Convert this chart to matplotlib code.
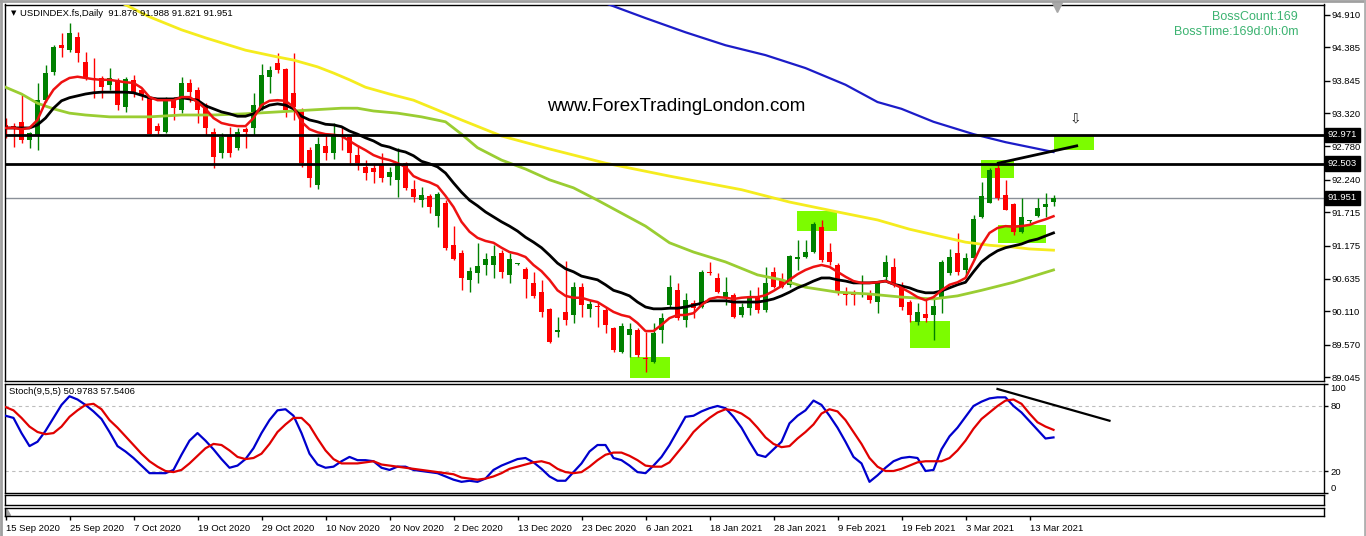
import matplotlib
matplotlib.use('Agg')
import matplotlib.pyplot as plt
import matplotlib.transforms as mtransforms
from matplotlib.patches import Rectangle
import numpy as np

plt.rcParams['font.family'] = ['Liberation Sans', 'DejaVu Sans']

W, H = 1366, 536

# daily candles, oldest first
opens = [93.128, 93.112, 93.177, 92.885, 92.966, 93.533, 93.987, 94.424, 94.343, 94.554,
         94.149, 93.889, 93.889, 93.776, 93.857, 93.420, 93.857, 93.695, 93.565, 93.112,
         93.015, 93.533, 93.371, 93.808, 93.695, 93.452, 93.015, 92.674, 92.966, 92.755,
         93.063, 93.079, 93.420, 93.906, 94.132, 94.035, 93.646, 93.371, 92.723, 92.156,
         92.788, 92.674, 92.966, 92.934, 92.642, 92.448, 92.431, 92.496, 92.286, 92.237,
         92.512, 92.091, 91.913, 91.978, 91.654, 91.864, 91.184, 91.054, 90.617, 90.730,
         90.860, 90.860, 91.054, 90.698, 90.876, 90.795, 90.568, 90.423, 90.147, 89.775,
         90.099, 90.050, 90.504, 90.147, 90.196, 90.131, 89.839, 89.451, 89.726, 89.807,
         89.353, 89.289, 89.807, 90.212, 90.455, 89.969, 90.244, 90.180, 90.747, 90.649,
         90.342, 90.374, 90.050, 90.163, 90.342, 90.131, 90.747, 90.617, 90.536, 90.957,
         90.990, 91.071, 91.476, 91.071, 90.860, 90.423, 90.423, 90.390, 90.390, 90.261,
         90.666, 90.828, 90.504, 90.261, 89.937, 90.066, 90.050, 90.325, 90.730, 91.054,
         90.779, 90.973, 91.638, 91.864, 92.431, 91.994, 91.848, 91.395, 91.573, 91.654,
         91.800, 91.876]
highs = [93.241, 93.160, 93.614, 93.015, 93.808, 94.100, 94.424, 94.618, 94.780, 94.635,
         94.311, 94.213, 93.922, 94.051, 93.889, 93.906, 93.938, 93.727, 93.582, 93.160,
         93.582, 93.582, 93.906, 93.873, 93.744, 93.484, 93.079, 92.998, 93.096, 93.079,
         93.096, 93.646, 94.116, 94.084, 94.294, 94.051, 94.294, 93.403, 92.772, 92.934,
         92.966, 93.160, 93.096, 92.966, 92.804, 92.561, 92.512, 92.674, 92.448, 92.755,
         92.529, 92.237, 92.124, 92.010, 92.043, 91.913, 91.492, 91.103, 90.828, 91.216,
         91.054, 91.184, 91.103, 91.054, 90.892, 90.828, 90.747, 90.617, 90.163, 90.018,
         90.925, 90.585, 90.568, 90.293, 90.261, 90.180, 89.856, 89.920, 89.920, 89.839,
         89.775, 89.920, 90.082, 90.698, 90.568, 90.406, 90.293, 90.779, 90.909, 90.730,
         90.666, 90.406, 90.244, 90.455, 90.504, 90.828, 90.828, 90.730, 91.022, 91.265,
         91.265, 91.557, 91.589, 91.216, 90.892, 90.504, 90.455, 90.698, 90.455, 90.585,
         91.022, 90.973, 90.585, 90.293, 90.244, 90.293, 90.342, 90.941, 91.119, 91.378,
         91.054, 91.670, 92.205, 92.431, 92.512, 92.237, 91.864, 91.945, 91.589, 91.945,
         92.026, 91.988]
lows = [92.917, 92.772, 92.836, 92.755, 92.723, 93.501, 93.938, 94.230, 94.311, 94.149,
        93.857, 93.565, 93.565, 93.695, 93.371, 93.339, 93.582, 93.533, 92.966, 92.982,
        92.998, 93.209, 93.322, 93.501, 93.160, 92.966, 92.431, 92.593, 92.610, 92.723,
        92.755, 92.966, 93.371, 93.646, 93.970, 93.258, 93.209, 92.448, 92.124, 92.091,
        92.561, 92.577, 92.723, 92.480, 92.399, 92.237, 92.188, 92.205, 92.156, 91.962,
        92.075, 91.881, 91.800, 91.702, 91.476, 91.103, 90.941, 90.455, 90.423, 90.568,
        90.698, 90.649, 90.649, 90.568, 90.860, 90.325, 90.325, 90.018, 89.596, 89.694,
        89.888, 89.920, 90.018, 90.018, 89.856, 89.758, 89.451, 89.434, 89.370, 89.370,
        89.127, 89.272, 89.596, 90.163, 89.969, 89.856, 90.001, 90.163, 90.698, 90.406,
        90.212, 90.001, 90.018, 90.050, 90.082, 90.099, 90.487, 90.487, 90.504, 90.779,
        90.973, 91.054, 90.909, 90.860, 90.374, 90.212, 90.212, 90.342, 90.244, 90.082,
        90.585, 90.504, 90.131, 89.937, 89.888, 89.937, 89.645, 90.082, 90.698, 90.698,
        90.698, 90.941, 91.621, 91.864, 91.913, 91.751, 91.346, 91.378, 91.540, 91.638,
        91.638, 91.821]
closes = [93.063, 93.079, 92.885, 92.998, 93.533, 93.970, 94.392, 94.375, 94.618, 94.294,
          93.906, 93.857, 93.744, 93.889, 93.452, 93.873, 93.646, 93.614, 92.982, 93.031,
          93.533, 93.403, 93.808, 93.663, 93.371, 93.079, 92.610, 92.934, 92.674, 93.015,
          93.015, 93.452, 93.938, 94.019, 94.019, 93.371, 93.420, 92.512, 92.269, 92.820,
          92.674, 92.966, 92.934, 92.674, 92.512, 92.350, 92.367, 92.269, 92.367, 92.512,
          92.107, 91.962, 91.994, 91.800, 92.010, 91.135, 90.957, 90.649, 90.763, 90.844,
          90.957, 91.006, 90.747, 90.957, 90.880, 90.633, 90.358, 90.099, 89.613, 89.807,
          89.969, 90.504, 90.212, 90.228, 90.180, 89.888, 89.483, 89.872, 89.823, 89.402,
          89.337, 89.758, 90.001, 90.504, 90.001, 90.293, 90.163, 90.747, 90.730, 90.423,
          90.423, 90.018, 90.180, 90.325, 90.131, 90.568, 90.504, 90.504, 91.006, 90.990,
          91.071, 91.524, 90.941, 90.909, 90.406, 90.374, 90.374, 90.406, 90.293, 90.568,
          90.909, 90.568, 90.180, 90.050, 90.099, 90.001, 90.196, 90.909, 90.990, 90.747,
          90.973, 91.605, 91.978, 92.399, 91.945, 91.751, 91.395, 91.638, 91.580, 91.783,
          91.848, 91.951]

# moving averages
ma_red = [93.08, 93.08, 93.06, 93.08, 93.21, 93.50, 93.70, 93.82, 93.89, 93.91,
          93.89, 93.87, 93.86, 93.86, 93.84, 93.82, 93.81, 93.73, 93.58, 93.53,
          93.53, 93.53, 93.58, 93.58, 93.50, 93.39, 93.24, 93.16, 93.13, 93.11,
          93.11, 93.24, 93.45, 93.52, 93.53, 93.52, 93.42, 93.18, 93.06, 93.01,
          92.98, 92.97, 92.95, 92.87, 92.79, 92.72, 92.64, 92.59, 92.56, 92.51,
          92.45, 92.30, 92.24, 92.20, 92.14, 91.98, 91.80, 91.56, 91.40, 91.30,
          91.25, 91.22, 91.14, 91.07, 91.04, 90.99, 90.86, 90.76, 90.62, 90.45,
          90.36, 90.33, 90.33, 90.29, 90.26, 90.18, 90.10, 90.05, 90.02, 89.92,
          89.79, 89.79, 89.89, 90.00, 90.05, 90.05, 90.08, 90.21, 90.31, 90.34,
          90.33, 90.31, 90.33, 90.34, 90.34, 90.37, 90.44, 90.52, 90.62, 90.71,
          90.78, 90.83, 90.86, 90.83, 90.75, 90.67, 90.60, 90.57, 90.57, 90.58,
          90.60, 90.55, 90.49, 90.42, 90.34, 90.29, 90.34, 90.45, 90.54, 90.58,
          90.65, 90.91, 91.18, 91.38, 91.46, 91.49, 91.48, 91.49, 91.51, 91.56,
          91.60, 91.65]
ma_black = [93.08, 93.08, 93.08, 93.08, 93.13, 93.24, 93.40, 93.52, 93.57, 93.60,
            93.63, 93.65, 93.66, 93.66, 93.66, 93.66, 93.65, 93.61, 93.57, 93.55,
            93.55, 93.55, 93.57, 93.55, 93.53, 93.44, 93.39, 93.34, 93.31, 93.27,
            93.27, 93.31, 93.39, 93.45, 93.47, 93.45, 93.39, 93.27, 93.21, 93.18,
            93.14, 93.13, 93.10, 93.03, 92.98, 92.92, 92.87, 92.80, 92.77, 92.72,
            92.69, 92.63, 92.54, 92.50, 92.45, 92.35, 92.19, 92.04, 91.91, 91.82,
            91.72, 91.64, 91.56, 91.49, 91.41, 91.31, 91.23, 91.14, 91.02, 90.89,
            90.80, 90.75, 90.68, 90.65, 90.62, 90.54, 90.45, 90.41, 90.36, 90.26,
            90.18, 90.15, 90.15, 90.16, 90.16, 90.18, 90.21, 90.24, 90.28, 90.28,
            90.28, 90.26, 90.26, 90.26, 90.26, 90.28, 90.31, 90.36, 90.42, 90.49,
            90.54, 90.60, 90.65, 90.65, 90.62, 90.60, 90.57, 90.57, 90.57, 90.58,
            90.60, 90.55, 90.52, 90.49, 90.44, 90.41, 90.41, 90.44, 90.49, 90.54,
            90.58, 90.75, 90.91, 91.01, 91.09, 91.14, 91.17, 91.20, 91.25, 91.28,
            91.33, 91.38]
green_bars = [0, 2, 4, 6, 8, 10, 13, 18, 22, 26, 30, 34, 38, 42, 44, 46, 49, 52, 55, 57,
              59, 62, 65, 68, 71, 74, 77, 80, 83, 86, 88, 90, 94, 97, 100, 104, 108, 112,
              116, 119, 122, 126, 129, 131]
ma_green = [93.74, 93.63, 93.48, 93.39, 93.32, 93.29, 93.26, 93.26, 93.29, 93.29, 93.31,
            93.34, 93.37, 93.40, 93.40, 93.355, 93.32, 93.26, 93.18, 92.98, 92.76, 92.56,
            92.415, 92.24, 92.11, 91.91, 91.70, 91.49, 91.22, 91.07, 90.99, 90.91, 90.70,
            90.62, 90.50, 90.42, 90.39, 90.34, 90.31, 90.36, 90.45, 90.58, 90.70, 90.78]
yellow_bars = [14, 18, 22, 25, 28, 30, 34, 36, 39, 41, 43, 45, 48, 51, 54, 57, 62, 68, 75,
               83, 92, 98, 104, 109, 113, 116, 120, 123, 126, 128, 131]
ma_yellow = [95.14, 94.88, 94.67, 94.54, 94.42, 94.34, 94.23, 94.18, 94.07, 93.97, 93.86,
             93.74, 93.63, 93.53, 93.37, 93.21, 92.95, 92.74, 92.51, 92.30, 92.08, 91.88,
             91.72, 91.59, 91.44, 91.35, 91.23, 91.18, 91.15, 91.12, 91.10]
blue_bars = [75, 80, 85, 90, 95, 100, 105, 109, 112, 116, 121, 125, 128, 131]
ma_blue = [95.10, 94.86, 94.63, 94.42, 94.26, 94.05, 93.78, 93.50, 93.39, 93.18, 92.98,
           92.85, 92.77, 92.69]

# Stoch(9,5,5)
stoch_main = [71, 69, 55, 43, 47, 57, 69, 81, 89, 86, 81, 75, 68, 56, 43, 38, 32, 25, 18, 18,
              18, 21, 35, 48, 55, 48, 40, 31, 23, 25, 31, 41, 55, 67, 76, 77, 71, 55, 36, 26,
              23, 24, 29, 33, 30, 30, 29, 23, 21, 24, 24, 21, 20, 19, 18, 15, 12, 10, 11, 10,
              13, 21, 25, 28, 31, 32, 28, 22, 15, 11, 11, 19, 27, 38, 44, 44, 32, 30, 25, 19,
              18, 25, 33, 44, 57, 70, 71, 75, 78, 80, 78, 70, 60, 47, 35, 33, 40, 47, 64, 71,
              76, 85, 81, 71, 60, 47, 33, 27, 10, 16, 23, 29, 32, 33, 32, 20, 21, 40, 52, 60,
              70, 80, 84, 87, 88, 88, 80, 74, 66, 58, 50, 51]
stoch_signal = [79, 76, 69, 61, 56, 54, 55, 61, 70, 76, 81, 82, 77, 67, 60, 52, 44, 36, 29, 24,
                20, 19, 21, 27, 34, 41, 45, 44, 39, 33, 31, 32, 36, 45, 56, 63, 69, 69, 62, 50,
                39, 31, 27, 27, 27, 28, 29, 26, 25, 24, 23, 22, 21, 20, 19, 18, 17, 14, 13, 12,
                13, 15, 18, 22, 24, 26, 28, 29, 27, 22, 19, 18, 19, 24, 30, 35, 37, 37, 34, 30,
                25, 24, 24, 28, 37, 46, 56, 63, 69, 74, 77, 76, 73, 68, 60, 51, 45, 42, 43, 50,
                56, 63, 73, 77, 75, 67, 56, 45, 32, 24, 20, 20, 22, 25, 28, 29, 29, 29, 32, 39,
                48, 59, 68, 74, 80, 85, 86, 82, 73, 65, 61, 58]

price_ticks = [94.910, 94.385, 93.845, 93.320, 92.780, 92.240, 91.715, 91.175, 90.635,
               90.110, 89.570, 89.045]
level_lines = [92.971, 92.503]
last_price = 91.951
dates = ['15 Sep 2020', '25 Sep 2020', '7 Oct 2020', '19 Oct 2020', '29 Oct 2020',
         '10 Nov 2020', '20 Nov 2020', '2 Dec 2020', '13 Dec 2020', '23 Dec 2020',
         '6 Jan 2021', '18 Jan 2021', '28 Jan 2021', '9 Feb 2021', '19 Feb 2021',
         '3 Mar 2021', '13 Mar 2021']
date_bars = list(range(0, 8 * len(dates), 8))

# highlight boxes: (first bar, last bar, low, high)
boxes = [(78.0, 83.0, 89.03, 89.37), (98.9, 103.9, 91.41, 91.735), (113.0, 118.0, 89.515, 89.95),
         (121.9, 126.0, 92.27, 92.56), (124.0, 130.0, 91.22, 91.51), (131.0, 136.0, 92.72, 92.95)]
trend_bars = [124.1, 133.9]
trend_prices = [92.51, 92.79]
stoch_trend_bars = [124.0, 138.0]
stoch_trend_vals = [95.7, 66.4]
arrow_bar, arrow_price = 133.8, 93.24
shift_bar = 131.4

XLIM = (-0.125, 164.75)
FS = 6.8


def px_axes(fig, x0, y0, x1, y1):
    return fig.add_axes([x0 / W, 1 - y1 / H, (x1 - x0) / W, (y1 - y0) / H])


fig = plt.figure(figsize=(W / 100, H / 100), dpi=100)
fig.patch.set_facecolor('white')

# ---------- price panel ----------
ax = px_axes(fig, 4.5, 4.5, 1323.5, 381)
ax.set_xlim(*XLIM)
ax.set_ylim(88.981, 95.080)

for b0, b1, lo, hi in boxes:
    ax.add_patch(Rectangle((b0, lo), b1 - b0, hi - lo, facecolor='#7CFC00', edgecolor='none', zorder=0.5))

o = np.array(opens); c = np.array(closes)
x = np.arange(len(o))
cols = np.where(c >= o, '#008000', '#FF0000')
ax.vlines(x, lows, highs, colors=cols, lw=1, zorder=2)
body_lo = np.minimum(o, c)
body_h = np.maximum(np.abs(c - o), 0.014)
ax.bar(x, body_h, bottom=body_lo, width=0.6, color=cols, linewidth=0, zorder=2)

ax.plot(blue_bars, ma_blue, color='#1C1CC8', lw=1.6, zorder=3)
ax.plot(yellow_bars, ma_yellow, color='#F5EC1E', lw=2, zorder=3)
ax.plot(green_bars, ma_green, color='#9ACD32', lw=2, zorder=3)
ax.plot(x, ma_black, color='black', lw=2, zorder=3.2)
ax.plot(x, ma_red, color='#EE1111', lw=1.8, zorder=3.3)

for lv in level_lines:
    ax.axhline(lv, color='black', lw=2, zorder=4)
ax.axhline(last_price, color='#8A9098', lw=1, zorder=1)
ax.plot(trend_bars, trend_prices, color='black', lw=2, zorder=4)

ax.text(arrow_bar, arrow_price, '\u21e9', ha='center', va='center', fontsize=10,
        family=['DejaVu Sans'], color='#222222')
ax.plot([shift_bar], [95.04], marker='v', color='#A8A8A8', ms=7, clip_on=False, zorder=5)

ax.set_xticks([])
ax.yaxis.tick_right()
ax.set_yticks(price_ticks)
ax.set_yticklabels(['%.3f' % p for p in price_ticks])
ax.tick_params(axis='y', length=4, width=1, pad=2, labelsize=FS, colors='black')
for s in ax.spines.values():
    s.set_color('black'); s.set_linewidth(1)

btrans = mtransforms.blended_transform_factory(ax.transAxes, ax.transData)
for p in level_lines + [last_price]:
    ax.text(1.0033, p, '%.3f' % p, transform=btrans, ha='left', va='center', fontsize=FS,
            color='white', zorder=6, clip_on=False,
            bbox=dict(boxstyle='square,pad=0.28', facecolor='black', edgecolor='black'))

ax.text(0.0047, 0.977, '\u25bc', transform=ax.transAxes, fontsize=5, va='center',
        family=['DejaVu Sans'])
ax.text(0.0118, 0.977, 'USDINDEX.fs,Daily  91.876 91.988 91.821 91.951', transform=ax.transAxes,
        fontsize=FS, va='center')
ax.text(0.5095, 0.728, 'www.ForexTradingLondon.com', transform=ax.transAxes, fontsize=13.5,
        ha='center', va='center', color='black')
ax.text(0.9807, 0.967, 'BossCount:169', transform=ax.transAxes, fontsize=9, ha='right',
        va='center', color='#3CB371')
ax.text(0.9807, 0.927, 'BossTime:169d:0h:0m', transform=ax.transAxes, fontsize=9, ha='right',
        va='center', color='#3CB371')

# ---------- stochastic panel ----------
ax2 = px_axes(fig, 4.5, 384, 1323.5, 493)
ax2.set_xlim(*XLIM)
ax2.set_ylim(-0.3, 100.3)
for lv in (80, 20):
    ax2.axhline(lv, color='#BDBDBD', lw=0.8, ls=(0, (3, 3)), zorder=1)
ax2.plot(x, stoch_main, color='#0000CD', lw=1.6, zorder=3)
ax2.plot(x, stoch_signal, color='#E00000', lw=1.6, zorder=3)
ax2.plot(stoch_trend_bars, stoch_trend_vals, color='black', lw=1.6, zorder=4)
ax2.set_xticks([])
ax2.yaxis.tick_right()
ax2.set_yticks([100, 80, 20, 0])
ax2.set_yticklabels(['100', '80', '20', '0'])
ax2.tick_params(axis='y', length=3, width=1, pad=2, labelsize=FS)
lbls = ax2.get_yticklabels()
lbls[0].set_va('top')
lbls[3].set_va('bottom')
for s in ax2.spines.values():
    s.set_color('black'); s.set_linewidth(1)
ax2.text(0.0035, 0.927, 'Stoch(9,5,5) 50.9783 57.5406', transform=ax2.transAxes, fontsize=FS,
         va='center')

# ---------- empty strip + time axis ----------
ax3 = px_axes(fig, 4.5, 495, 1323.5, 505)
ax3.set_xticks([]); ax3.set_yticks([])
ax4 = px_axes(fig, 4.5, 507.5, 1323.5, 515.5)
ax4.set_xlim(*XLIM)
ax4.set_yticks([])
ax4.set_xticks(date_bars)
ax4.set_xticklabels(dates, ha='left')
ax4.tick_params(axis='x', length=3, width=1, pad=3, labelsize=FS, direction='out')
ax4.fill([0.0008, 0.0008, 0.0045], [0.9, 0.1, 0.1], transform=ax4.transAxes, color='#A0A0A0')
for a in (ax3, ax4):
    for s in a.spines.values():
        s.set_color('black'); s.set_linewidth(1)

# window frame
fig.add_artist(plt.Line2D([0.5 / W, 0.5 / W], [0, 1], transform=fig.transFigure, color='#A0A0A0', lw=2))
fig.add_artist(plt.Line2D([0, 1], [1 - 0.5 / H, 1 - 0.5 / H], transform=fig.transFigure, color='#A0A0A0', lw=2))
fig.add_artist(plt.Line2D([1 - 1.5 / W, 1 - 1.5 / W], [0, 1], transform=fig.transFigure, color='#B0B0B0', lw=2))

fig.savefig('out.png', dpi=100)
